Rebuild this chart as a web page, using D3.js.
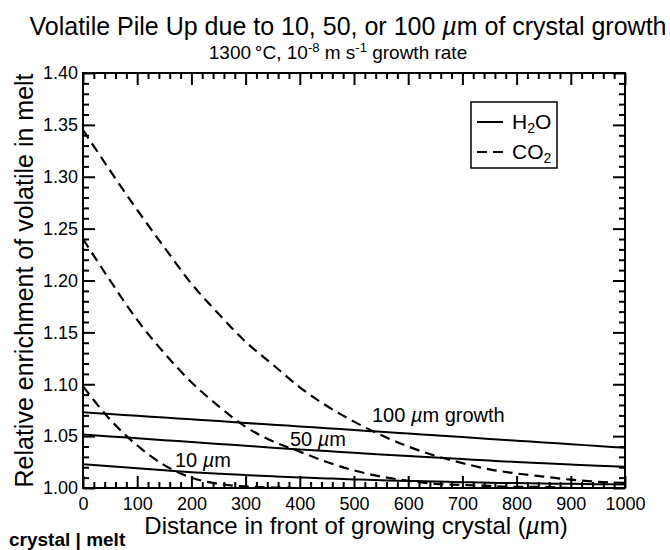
<!DOCTYPE html>
<html>
<head>
<meta charset="utf-8">
<script src="https://d3js.org/d3.v7.min.js"></script>
<style>
  body { margin: 0; background: #fff; }
  svg { display: block; font-family: "Liberation Sans", Arial, Helvetica, sans-serif; }
</style>
</head>
<body>
<div id="chart"></div>
<script>
// distance in front of crystal (um)
const distance = [0, 50, 100, 150, 200, 250, 300, 350, 400, 450, 500,
                  550, 600, 650, 700, 750, 800, 850, 900, 950, 1000];

// H2O (solid)
const h2o100 = [1.073, 1.0713, 1.0696, 1.0679, 1.0662, 1.0645, 1.0627, 1.0610, 1.0593, 1.0576, 1.0559,
                1.0542, 1.0525, 1.0508, 1.0491, 1.0473, 1.0456, 1.0439, 1.0422, 1.0405, 1.0388];
const h2o50  = [1.0515, 1.0497, 1.0479, 1.0461, 1.0443, 1.0425, 1.0407, 1.0389, 1.0372, 1.0356, 1.0340,
                1.0324, 1.0309, 1.0294, 1.0279, 1.0264, 1.0250, 1.0238, 1.0226, 1.0215, 1.0205];
const h2o10  = [1.023, 1.021, 1.019, 1.017, 1.0152, 1.0138, 1.0125, 1.0113, 1.0102, 1.0092, 1.0083,
                1.0075, 1.0068, 1.0062, 1.0056, 1.0051, 1.0047, 1.0043, 1.0040, 1.0037, 1.0034];

// CO2 (dashed)
const co2_100 = [1.345, 1.306, 1.268, 1.232, 1.197, 1.168, 1.141, 1.119, 1.097, 1.079, 1.064,
                 1.051, 1.040, 1.031, 1.024, 1.018, 1.014, 1.011, 1.008, 1.006, 1.005];
const co2_50  = [1.240, 1.200, 1.162, 1.130, 1.102, 1.079, 1.059, 1.045, 1.035, 1.025, 1.017,
                 1.011, 1.007, 1.004, 1.003, 1.002, 1.001, 1.001, 1.000, 1.000, 1.000];
const co2_10  = [1.098, 1.066, 1.041, 1.022, 1.010, 1.004, 1.0015, 1.0005, 1.000, 1.000, 1.000,
                 1.000, 1.000, 1.000, 1.000, 1.000, 1.000, 1.000, 1.000, 1.000, 1.000];

const xTicks = [0, 100, 200, 300, 400, 500, 600, 700, 800, 900, 1000];
const yTicks = [1.00, 1.05, 1.10, 1.15, 1.20, 1.25, 1.30, 1.35, 1.40];

const W = 670, H = 550;
const pL = 83, pR = 625, pT = 73, pB = 488;

const svg = d3.select('#chart').append('svg')
  .attr('width', W).attr('height', H);

const x = d3.scaleLinear().domain([0, 1000]).range([pL, pR]);
const y = d3.scaleLinear().domain([1.0, 1.4]).range([pB, pT]);

// titles
const title = svg.append('text')
  .attr('x', 348).attr('y', 35)
  .attr('text-anchor', 'middle')
  .style('font-size', '25px');
title.append('tspan').text('Volatile Pile Up due to 10, 50, or 100 ');
title.append('tspan').style('font-style', 'italic').text('\u00b5');
title.append('tspan').text('m of crystal growth');

const sub = svg.append('text')
  .attr('x', 338).attr('y', 59)
  .attr('text-anchor', 'middle')
  .style('font-size', '19px');
sub.append('tspan').text('1300\u2009\u00b0C, 10');
sub.append('tspan').attr('dy', -7).style('font-size', '13px').text('-8');
sub.append('tspan').attr('dy', 7).text(' m s');
sub.append('tspan').attr('dy', -7).style('font-size', '13px').text('-1');
sub.append('tspan').attr('dy', 7).text(' growth rate');

// clip
svg.append('clipPath').attr('id', 'clip')
  .append('rect').attr('x', pL).attr('y', pT)
  .attr('width', pR - pL).attr('height', pB - pT);

// curves
const line = d3.line()
  .x((d, i) => x(distance[i]))
  .y(d => y(d))
  .curve(d3.curveMonotoneX);

const curves = svg.append('g').attr('clip-path', 'url(#clip)');
[h2o100, h2o50, h2o10].forEach(s => {
  curves.append('path').attr('d', line(s))
    .attr('fill', 'none').attr('stroke', '#000').attr('stroke-width', 2);
});
[co2_100, co2_50, co2_10].forEach(s => {
  curves.append('path').attr('d', line(s))
    .attr('fill', 'none').attr('stroke', '#000').attr('stroke-width', 2.2)
    .attr('stroke-dasharray', '10,6');
});

// axes, ticks pointing inward on all sides
const minorX = d3.range(0, 1001, 20).filter(v => v % 100 !== 0);
const minorY = d3.range(100, 141, 1).filter(v => v % 5 !== 0).map(v => v / 100);

function styleAxis(g) {
  g.select('.domain').remove();
  g.selectAll('.tick line').attr('stroke', '#000').attr('stroke-width', 2);
  g.selectAll('.tick text').attr('fill', '#000').style('font-size', '18px')
    .style('font-family', '"Liberation Sans", Arial, sans-serif');
}

svg.append('g').attr('transform', `translate(0,${pB})`)
  .call(d3.axisBottom(x).tickValues(xTicks).tickSize(-12).tickPadding(9).tickFormat(d3.format('d')))
  .call(styleAxis);
svg.append('g').attr('transform', `translate(0,${pB})`)
  .call(d3.axisBottom(x).tickValues(minorX).tickSize(-6).tickFormat(''))
  .call(styleAxis);
svg.append('g').attr('transform', `translate(0,${pT})`)
  .call(d3.axisTop(x).tickValues(xTicks).tickSize(-12).tickFormat(''))
  .call(styleAxis);
svg.append('g').attr('transform', `translate(0,${pT})`)
  .call(d3.axisTop(x).tickValues(minorX).tickSize(-6).tickFormat(''))
  .call(styleAxis);

svg.append('g').attr('transform', `translate(${pL},0)`)
  .call(d3.axisLeft(y).tickValues(yTicks).tickSize(-12).tickPadding(5).tickFormat(d3.format('.2f')))
  .call(styleAxis);
svg.append('g').attr('transform', `translate(${pL},0)`)
  .call(d3.axisLeft(y).tickValues(minorY).tickSize(-6).tickFormat(''))
  .call(styleAxis);
svg.append('g').attr('transform', `translate(${pR},0)`)
  .call(d3.axisRight(y).tickValues(yTicks).tickSize(-12).tickFormat(''))
  .call(styleAxis);
svg.append('g').attr('transform', `translate(${pR},0)`)
  .call(d3.axisRight(y).tickValues(minorY).tickSize(-6).tickFormat(''))
  .call(styleAxis);

// frame
svg.append('rect')
  .attr('x', pL).attr('y', pT)
  .attr('width', pR - pL).attr('height', pB - pT)
  .attr('fill', 'none').attr('stroke', '#000').attr('stroke-width', 2);

// axis titles
const xt = svg.append('text')
  .attr('x', 356).attr('y', 534)
  .attr('text-anchor', 'middle')
  .style('font-size', '24px');
xt.append('tspan').text('Distance in front of growing crystal (');
xt.append('tspan').style('font-style', 'italic').text('\u00b5');
xt.append('tspan').text('m)');

svg.append('text')
  .attr('transform', `translate(33,${(pT + pB) / 2}) rotate(-90)`)
  .attr('text-anchor', 'middle')
  .style('font-size', '25px')
  .text('Relative enrichment of volatile in melt');

// curve labels
function umLabel(px, py, pre, post) {
  const t = svg.append('text').attr('x', px).attr('y', py).style('font-size', '20px');
  t.append('tspan').text(pre);
  t.append('tspan').style('font-style', 'italic').text('\u00b5');
  t.append('tspan').text(post);
}
umLabel(372, 422, '100 ', 'm growth');
umLabel(290, 446, '50 ', 'm');
umLabel(175, 467, '10 ', 'm');

// legend
const lg = svg.append('g');
lg.append('rect').attr('x', 471).attr('y', 102).attr('width', 86).attr('height', 66)
  .attr('fill', '#fff').attr('stroke', '#000').attr('stroke-width', 1.5);
lg.append('line').attr('x1', 477).attr('x2', 503).attr('y1', 122).attr('y2', 122)
  .attr('stroke', '#000').attr('stroke-width', 2);
lg.append('line').attr('x1', 477).attr('x2', 503).attr('y1', 152).attr('y2', 152)
  .attr('stroke', '#000').attr('stroke-width', 2.2).attr('stroke-dasharray', '10,6');
const l1 = lg.append('text').attr('x', 512).attr('y', 129).style('font-size', '21px');
l1.append('tspan').text('H');
l1.append('tspan').attr('dy', 4).style('font-size', '14px').text('2');
l1.append('tspan').attr('dy', -4).text('O');
const l2 = lg.append('text').attr('x', 512).attr('y', 159).style('font-size', '21px');
l2.append('tspan').text('CO');
l2.append('tspan').attr('dy', 4).style('font-size', '14px').text('2');

// bottom note
svg.append('text').attr('x', 9).attr('y', 546)
  .style('font-size', '19px').style('font-weight', 'bold')
  .text('crystal | melt');
</script>
</body>
</html>
